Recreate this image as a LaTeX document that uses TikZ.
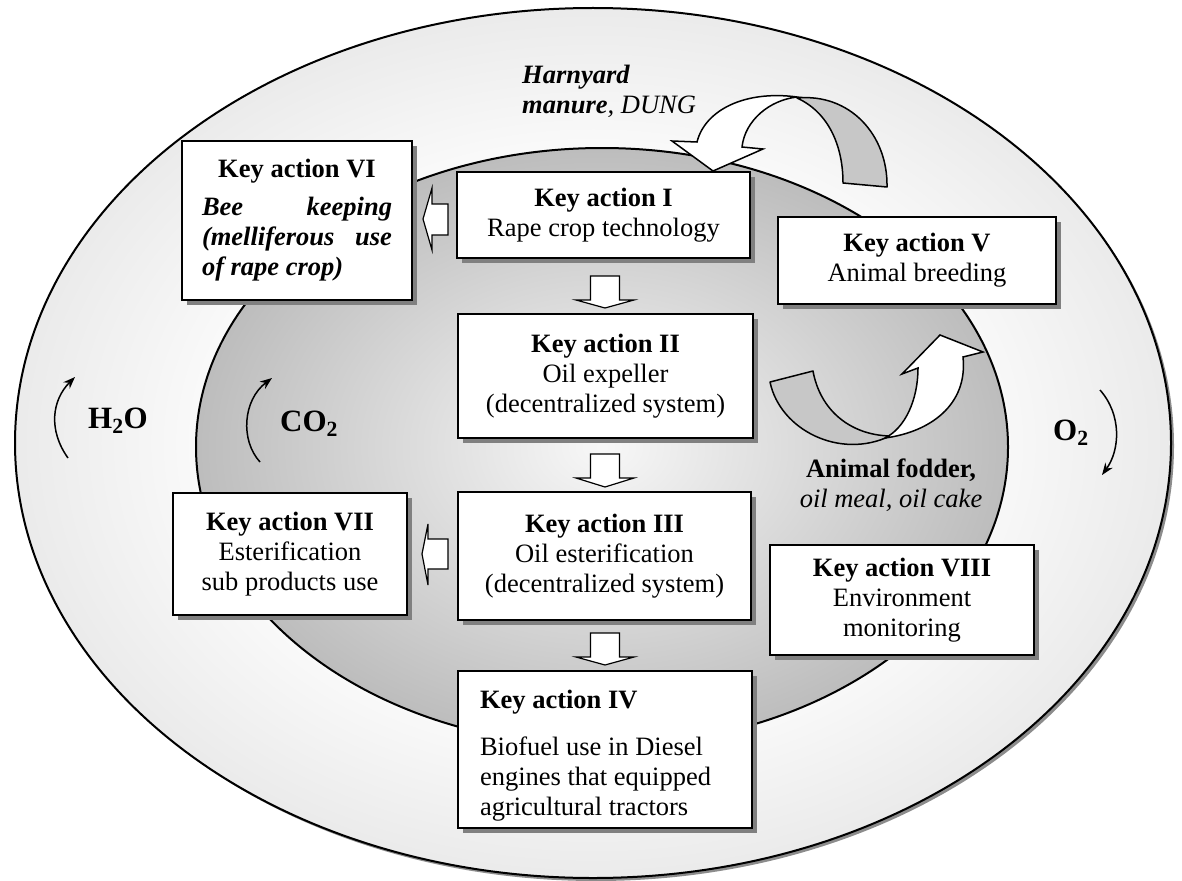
\documentclass[tikz,border=0pt]{standalone}
\usepackage{fontspec}
\setmainfont{Liberation Serif}
\usetikzlibrary{shadows,arrows.meta}
\newcommand\kfont{\fontsize{26.5}{30}\selectfont}
\newcommand\gfont{\fontsize{31}{34}\selectfont\bfseries}
\pgfdeclareradialshading{outershade}{\pgfpoint{0bp}{0bp}}{color(0bp)=(white); color(14bp)=(white); color(25bp)=(black!8); color(50bp)=(black!8)}
\pgfdeclareradialshading{innershade}{\pgfpoint{0bp}{0bp}}{color(0bp)=(black!3); color(25bp)=(black!26); color(50bp)=(black!26)}
\begin{document}
\begin{tikzpicture}[x=1pt,y=-1pt,
  kbox/.style={draw=black, line width=1.3pt, fill=white, inner sep=0pt, font=\kfont, align=center,
    drop shadow={shadow xshift=5pt, shadow yshift=-5pt, fill=black!50, opacity=1}},
  blockarrow/.style={draw=black, line width=1.2pt, fill=white, line join=miter},
  ribbonback/.style={draw=black, line width=1.5pt, fill=black!22, line join=round},
  ribbonfront/.style={draw=black, line width=1.5pt, fill=white, line join=miter},
  gasarrow/.style={line width=1.5pt, -{Stealth[length=12pt,width=9pt]}},
  gas/.style={font=\gfont, anchor=base west, inner sep=0pt},
  freetext/.style={font=\kfont, inner sep=0pt}]

\useasboundingbox (0,0) rectangle (1182,880);

% outer ellipse with shadow and light radial shading
\fill[black!45] (596,446) ellipse [x radius=578pt, y radius=435pt];
\shade[shading=outershade] (593,443) ellipse [x radius=578pt, y radius=435pt];
\draw[line width=2pt] (593,443) ellipse [x radius=578pt, y radius=435pt];

% inner ellipse
\shade[shading=innershade] (602,447) ellipse [x radius=406pt, y radius=299pt];
\draw[line width=2pt] (602,447) ellipse [x radius=406pt, y radius=299pt];

% gas labels and their curved arrows
\node[gas] (h2o) at (88,428) {H\textsubscript{2}O};
\node[gas] (co2) at (280,431) {CO\textsubscript{2}};
\node[gas] (o2) at (1053,440) {O\textsubscript{2}};
\coordinate (h2oa) at (68,458);  \coordinate (h2ob) at (75,377);
\coordinate (co2a) at (260,462); \coordinate (co2b) at (272,378);
\coordinate (o2a) at (1100,390); \coordinate (o2b) at (1102,475);
\draw[gasarrow] (h2oa) .. controls (48,430) and (52,400) .. (h2ob);
\draw[gasarrow] (co2a) .. controls (240,440) and (243,400) .. (co2b);
\draw[gasarrow] (o2a) .. controls (1122,415) and (1120,450) .. (o2b);

% manure ribbon arrow
\draw[ribbonback] (797,98) .. controls (850,93) and (888,135) .. (887,187)
  -- (843,183) .. controls (843,145) and (828,112) .. (797,98) -- cycle;
\draw[ribbonfront] (697,142) .. controls (705,110) and (745,90) .. (797,97)
  .. controls (770,100) and (745,120) .. (742,147)
  -- (763,149) -- (713,171) -- (672,141) -- cycle;

% fodder ribbon arrow
\draw[ribbonback] (770,382) .. controls (780,430) and (840,460) .. (890,436)
  .. controls (850,435) and (820,410) .. (813,371) -- cycle;
\draw[ribbonfront] (885,438) .. controls (930,432) and (968,405) .. (963,357)
  -- (983,352) -- (940,335) -- (902,374) -- (918,368)
  .. controls (918,400) and (905,428) .. (885,438) -- cycle;

% labels
\node[freetext, align=left, anchor=north west] (dung) at (522,65)
  {\textbf{\textit{Harnyard}}\\\textbf{\textit{manure}}\textit{, DUNG}};
\node[freetext, align=center, anchor=north] (fodder) at (891,459)
  {\textbf{Animal fodder,}\\\textit{oil meal, oil cake}};

% key action boxes
\node[kbox, minimum width=293pt, minimum height=86pt] (k1) at (603.5,215)
  {\textbf{Key action I}\\Rape crop technology};
\node[kbox, minimum width=295pt, minimum height=124pt] (k2) at (605.5,376)
  {\textbf{Key action II}\\Oil expeller\\(decentralized system)};
\node[kbox, minimum width=293pt, minimum height=128pt] (k3) at (604.5,556)
  {\textbf{Key action III}\\Oil esterification\\(decentralized system)};
\node[kbox, minimum width=294pt, minimum height=157pt, align=left] (k4) at (605,749.5)
  {\makebox[250pt][l]{\textbf{Key action IV}\rule{0pt}{30pt}}\\[17pt]Biofuel use in Diesel\\engines that equipped\\agricultural tractors};
\node[kbox, minimum width=278pt, minimum height=87pt] (k5) at (917,260.5)
  {\textbf{Key action V}\\Animal breeding};
\node[kbox, minimum width=230pt, minimum height=159pt] (k6) at (297,220.5)
  {\textbf{Key action VI}\\[8pt]\textbf{\textit{\makebox[190pt][s]{Bee keeping}}}\\
   \textbf{\textit{\makebox[190pt][s]{(melliferous use}}}\\
   \textbf{\textit{\makebox[190pt][l]{of rape crop)}}}};
\node[kbox, minimum width=234pt, minimum height=122pt] (k7) at (290,554)
  {\textbf{Key action VII}\\Esterification\\sub products use};
\node[kbox, minimum width=264pt, minimum height=110pt] (k8) at (902,600)
  {\textbf{Key action VIII}\\Environment\\monitoring};

% block arrows between boxes
\draw[blockarrow] (590.5,276) -- (619.5,276) -- (619.5,300) -- (634,300) -- (605,308) -- (576,300) -- (590.5,300) -- cycle;
\draw[blockarrow] (590.5,454) -- (619.5,454) -- (619.5,478) -- (634,478) -- (605,487) -- (576,478) -- (590.5,478) -- cycle;
\draw[blockarrow] (590.5,633) -- (619.5,633) -- (619.5,657) -- (634,657) -- (605,665) -- (576,657) -- (590.5,657) -- cycle;
\draw[blockarrow] (448,204) -- (448,235) -- (432,235) -- (432,250) -- (423,219) -- (432,188) -- (432,204) -- cycle;
\draw[blockarrow] (448,539) -- (448,569) -- (428,569) -- (428,585) -- (422,554) -- (428,524) -- (428,539) -- cycle;
\end{tikzpicture}
\end{document}
